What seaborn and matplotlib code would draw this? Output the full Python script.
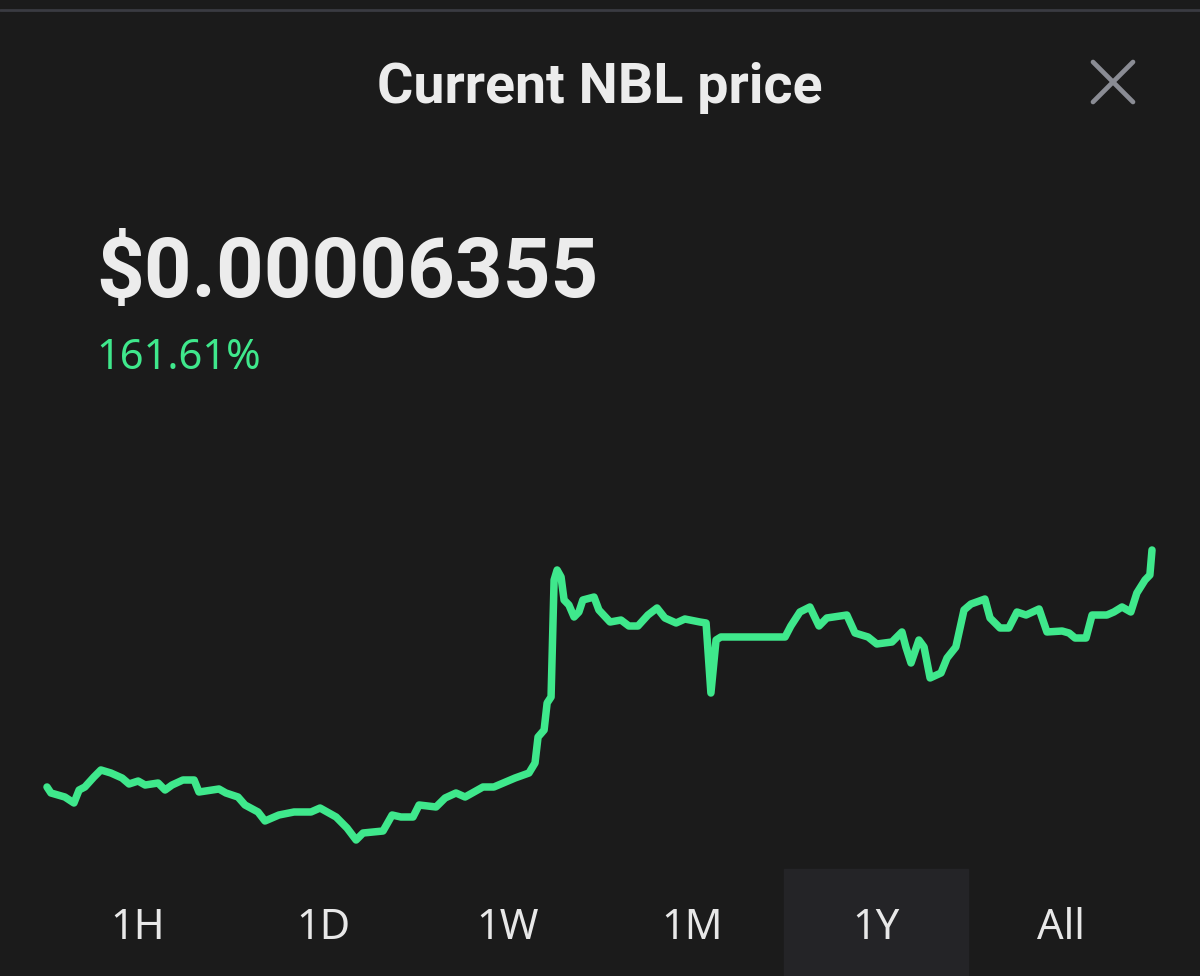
import matplotlib
matplotlib.use("Agg")
import matplotlib.pyplot as plt
from matplotlib.patches import Rectangle
from matplotlib.lines import Line2D
import seaborn as sns
import pandas as pd

# price history (days into the year, price in 1e-5 USD)
days = [0, 1.3, 5.9, 8.9, 10.6, 12.5, 15.5, 17.8, 21.1, 24.8, 27.1, 30.1, 32.4, 36.7,
        39.0, 41.3, 44.9, 48.6, 50.2, 56.8, 59.1, 63.1, 65.4, 69.7, 72.0, 76.6, 81.6,
        87.2, 90.2, 95.5, 99.1, 102.1, 104.4, 111.0, 114.0, 116.9, 120.9, 122.9, 128.5,
        131.5, 135.1, 138.1, 144.0, 147.6, 154.6, 159.2, 161.2, 162.2, 164.2, 165.2,
        166.5, 167.5, 168.5, 169.8, 170.8, 172.4, 174.1, 175.7, 177.0, 180.7, 182.3,
        186.0, 189.6, 192.2, 195.2, 198.5, 201.5, 204.1, 207.8, 210.7, 215.7, 217.7,
        219.3, 221.0, 222.6, 243.8, 245.7, 248.7, 252.0, 255.0, 257.6, 264.2, 266.9,
        271.2, 274.1, 279.1, 282.4, 283.7, 285.4, 288.0, 289.7, 291.7, 295.3, 297.3,
        300.2, 302.9, 305.2, 309.8, 311.5, 314.8, 317.7, 320.4, 323.4, 327.7, 330.3,
        335.3, 337.6, 339.6, 343.2, 345.2, 350.1, 352.4, 355.1, 358.0, 360.0, 362.7,
        364.3, 365.0]
prices = [2.429, 2.330, 2.263, 2.164, 2.379, 2.429, 2.595, 2.711, 2.661, 2.578, 2.479,
          2.528, 2.462, 2.495, 2.379, 2.462, 2.545, 2.545, 2.346, 2.396, 2.330, 2.263,
          2.131, 2.015, 1.866, 1.965, 2.015, 2.015, 2.081, 1.932, 1.750, 1.551, 1.667,
          1.700, 1.965, 1.932, 1.932, 2.131, 2.098, 2.247, 2.330, 2.263, 2.429, 2.429,
          2.578, 2.661, 2.827, 3.257, 3.373, 3.821, 3.920, 5.858, 6.024, 5.908, 5.527,
          5.444, 5.245, 5.328, 5.527, 5.576, 5.361, 5.162, 5.195, 5.096, 5.096, 5.278,
          5.394, 5.229, 5.146, 5.212, 5.162, 5.146, 3.986, 4.864, 4.914, 4.914, 5.096,
          5.328, 5.411, 5.096, 5.229, 5.278, 4.980, 4.914, 4.798, 4.831, 4.997, 4.748,
          4.483, 4.864, 4.748, 4.235, 4.318, 4.566, 4.748, 5.361, 5.460, 5.543, 5.229,
          5.063, 5.063, 5.328, 5.278, 5.378, 4.997, 5.013, 4.980, 4.897, 4.897, 5.278,
          5.278, 5.328, 5.411, 5.328, 5.643, 5.858, 5.941, 6.355]

title = "Current NBL price"
price_label = "$0.00006355"
change_label = "161.61%"
ranges = ["1H", "1D", "1W", "1M", "1Y", "All"]
selected = "1Y"

BG = "#1b1b1b"
GREEN = "#3fe88c"

sns.set_theme(style="dark", rc={"figure.facecolor": BG, "axes.facecolor": BG})
plt.rcParams["font.family"] = ["Noto Sans", "DejaVu Sans"]

W, H = 1200, 976
fig = plt.figure(figsize=(W / 100, H / 100), dpi=100)

df = pd.DataFrame({"day": days, "price": prices})

# chart area: 47..1152 px wide, 550..840 px tall
ax = fig.add_axes([47 / W, (H - 840) / H, 1105 / W, 290 / H])
sns.lineplot(data=df, x="day", y="price", ax=ax, color=GREEN, linewidth=5.4)
for ln in ax.get_lines():
    ln.set_clip_on(False)
    ln.set_solid_joinstyle("round")
    ln.set_solid_capstyle("round")
ax.set_xlim(min(days), max(days))
ax.set_ylim(min(prices), max(prices))
ax.set_axis_off()

# thin separator on top
fig.add_artist(Line2D([0, 1], [1 - 10 / H, 1 - 10 / H], color="#3a3b42", lw=2))

fig.text(0.5, 1 - 88 / H, title, ha="center", va="center", color="#ececec",
         fontsize=40, fontweight="bold", family=["Roboto", "DejaVu Sans"])

# close icon
cx, cy, r = 1113, 82, 20
fig.add_artist(Line2D([(cx - r) / W, (cx + r) / W], [1 - (cy - r) / H, 1 - (cy + r) / H],
                      color="#8a8c94", lw=3.4))
fig.add_artist(Line2D([(cx - r) / W, (cx + r) / W], [1 - (cy + r) / H, 1 - (cy - r) / H],
                      color="#8a8c94", lw=3.4))

fig.text(96 / W, 1 - 297 / H, price_label, ha="left", va="baseline", color="#ececec",
         fontsize=60, fontweight="bold", family=["Roboto", "DejaVu Sans"])
fig.text(96 / W, 1 - 369 / H, change_label, ha="left", va="baseline", color=GREEN,
         fontsize=30)

# time range selector
centers = [138, 323, 508, 692, 876, 1061]
for lab, c in zip(ranges, centers):
    if lab == selected:
        fig.add_artist(Rectangle(((c - 92) / W, 0), 184 / W, 107 / H,
                                 transform=fig.transFigure, color="#242427", zorder=0))
    fig.text(c / W, 1 - 928 / H, lab, ha="center", va="center", color="#e8e8e8",
             fontsize=30)

fig.savefig("out.png", dpi=100, facecolor=BG)
